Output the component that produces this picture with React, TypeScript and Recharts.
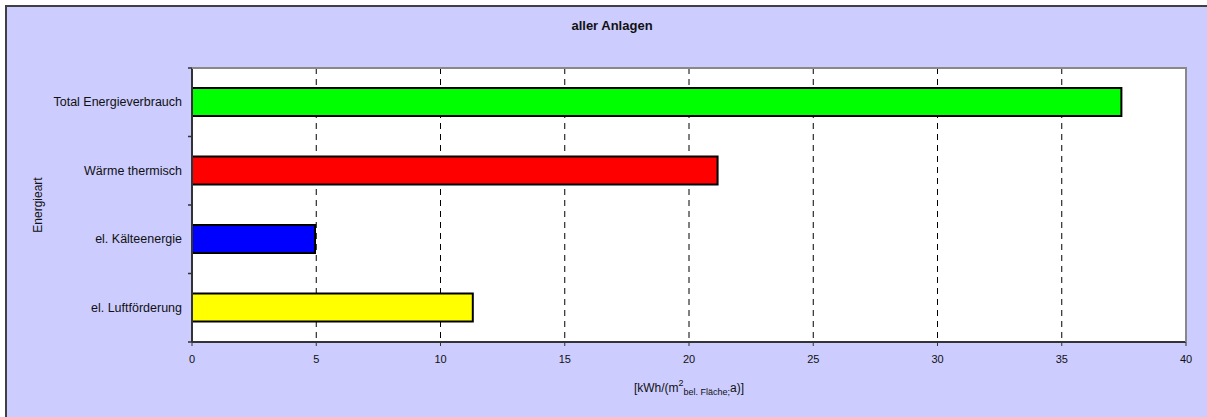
import React from "react";
import { BarChart, Bar, XAxis, YAxis, CartesianGrid, Cell, Label } from "recharts";

const categories = ["Total Energieverbrauch", "Wärme thermisch", "el. Kälteenergie", "el. Luftförderung"];
const values = [37.4, 21.15, 4.95, 11.3];
const barColors = ["#00FF00", "#FF0000", "#0000FF", "#FFFF00"];
const xTicks = [0, 5, 10, 15, 20, 25, 30, 35, 40];
const title = "aller Anlagen";
const yAxisTitle = "Energieart";

const data = categories.map((c, i) => ({ name: c, value: values[i] }));

const W = 1207;
const H = 417;
const M_TOP = 68;
const M_RIGHT = 21;
const Y_AXIS_W = 192;
const X_AXIS_H = 75;
const PLOT_W = W - Y_AXIS_W - M_RIGHT;
const PLOT_H = H - M_TOP - X_AXIS_H;
const BAND = PLOT_H / categories.length;
const FONT = "Liberation Sans, Arial, sans-serif";

const YTick = (props: any) => {
  const { x, y, payload, index } = props;
  const half = BAND / 2;
  return (
    <g>
      <text x={x} y={y} textAnchor="end" dominantBaseline="central" fontSize={12.5} fill="#111" fontFamily={FONT}>
        {payload.value}
      </text>
      <line x1={x + 6} x2={x + 10} y1={y - half} y2={y - half} stroke="#333" strokeWidth={1.5} />
      {index === categories.length - 1 && (
        <line x1={x + 6} x2={x + 10} y1={y + half} y2={y + half} stroke="#333" strokeWidth={1.5} />
      )}
    </g>
  );
};

const XLabel = (props: any) => {
  const vb = props.viewBox || {};
  const cx = vb.x + vb.width / 2;
  const by = vb.y + 50;
  return (
    <text x={cx} y={by} textAnchor="middle" fontSize={12} fill="#111" fontFamily={FONT}>
      <tspan>[kWh/(m</tspan>
      <tspan fontSize={9} dy={-6}>2</tspan>
      <tspan fontSize={9} dy={9}>bel. Fläche;</tspan>
      <tspan fontSize={12} dy={-3}>a)]</tspan>
    </text>
  );
};

const YLabel = (props: any) => {
  const vb = props.viewBox || {};
  const cx = 38;
  const cy = vb.y + vb.height / 2;
  const left = vb.x + vb.width;
  const right = left + PLOT_W;
  const top = vb.y;
  const bottom = vb.y + vb.height;
  return (
    <g>
      <polyline
        points={`${left},${top} ${right},${top} ${right},${bottom}`}
        fill="none"
        stroke="#888"
        strokeWidth={2}
      />
      <text x={cx} y={cy} textAnchor="middle" dominantBaseline="central" fontSize={12} fill="#111" fontFamily={FONT} transform={`rotate(-90 ${cx} ${cy})`}>
        {yAxisTitle}
      </text>
    </g>
  );
};

export default function App() {
  return (
    <div style={{ position: "absolute", left: 0, top: 0, width: W, height: H, background: "#fff", overflow: "hidden" }}>
      <div
        style={{
          position: "absolute",
          left: 5,
          top: 5,
          width: W + 20,
          height: H + 20,
          background: "#CCCCFF",
          borderLeft: "2px solid #404040",
          borderTop: "2px solid #404040",
        }}
      />
      <div
        style={{
          position: "absolute",
          left: 0,
          top: 18,
          width: 1224,
          textAlign: "center",
          fontFamily: FONT,
          fontWeight: "bold",
          fontSize: 13,
          color: "#111",
        }}
      >
        {title}
      </div>
      <div style={{ position: "absolute", left: 0, top: 0 }}>
        <BarChart
          width={W}
          height={H}
          data={data}
          layout="vertical"
          margin={{ top: M_TOP, right: M_RIGHT, left: 0, bottom: 0 }}
          barSize={28}
        >
          <CartesianGrid
            xAxisId="main"
            yAxisId="main"
            horizontal={false}
            vertical={true}
            stroke="#000"
            strokeDasharray="6 5"
            fill="#fff"
            fillOpacity={1}
          />
          <XAxis
            xAxisId="main"
            type="number"
            domain={[0, 40]}
            ticks={xTicks}
            interval={0}
            height={X_AXIS_H}
            tickSize={4}
            tickMargin={9}
            axisLine={{ stroke: "#333", strokeWidth: 2 }}
            tickLine={{ stroke: "#333" }}
            tick={{ fontSize: 11, fill: "#111", fontFamily: FONT }}
          >
            <Label content={<XLabel />} />
          </XAxis>
          <YAxis
            yAxisId="main"
            type="category"
            dataKey="name"
            width={Y_AXIS_W}
            tickSize={4}
            tickMargin={6}
            tickLine={false}
            axisLine={{ stroke: "#333", strokeWidth: 2 }}
            tick={<YTick />}
            interval={0}
          >
            <Label content={<YLabel />} />
          </YAxis>
          <Bar xAxisId="main" yAxisId="main" dataKey="value" stroke="#000" strokeWidth={2} isAnimationActive={false}>
            {data.map((d, i) => (
              <Cell key={d.name} fill={barColors[i]} />
            ))}
          </Bar>
        </BarChart>
      </div>
    </div>
  );
}
